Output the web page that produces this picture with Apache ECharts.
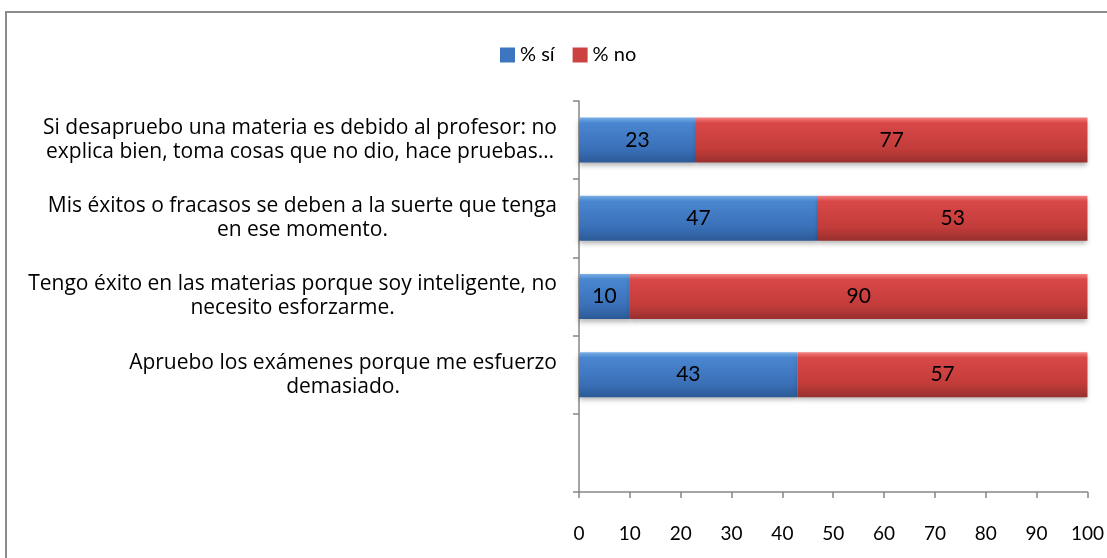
<!DOCTYPE html>
<html>
<head>
<meta charset="utf-8">
<script src="https://cdn.jsdelivr.net/npm/echarts@6/dist/echarts.min.js"></script>
<style>
  html, body { margin: 0; padding: 0; background: #fff; }
  #chart { width: 1107px; height: 558px; }
</style>
</head>
<body>
<div id="chart"></div>
<script>
// categories, top to bottom (last slot is empty in the original)
var categories = [
  'Si desapruebo una materia es debido al profesor: no\nexplica bien, toma cosas que no dio, hace pruebas…',
  'Mis éxitos o fracasos se deben a la suerte que tenga\nen ese momento.',
  'Tengo éxito en las materias porque soy inteligente, no\nnecesito esforzarme.',
  'Apruebo los exámenes porque me esfuerzo\ndemasiado.',
  ''
]
var siValues = [23, 47, 10, 43, null]
var noValues = [77, 53, 90, 57, null]
var xTicks = [0, 100, 10] // min, max, interval

var fontFamily = 'Lato, "Open Sans", sans-serif'
var catFont = '"Open Sans", Lato, sans-serif'

var blueGrad = new echarts.graphic.LinearGradient(0, 0, 0, 1, [
  { offset: 0, color: '#78aee6' },
  { offset: 0.12, color: '#4a86d0' },
  { offset: 0.7, color: '#3a70b8' },
  { offset: 1, color: '#2c5a96' }
])
var redGrad = new echarts.graphic.LinearGradient(0, 0, 0, 1, [
  { offset: 0, color: '#f48080' },
  { offset: 0.12, color: '#d94848' },
  { offset: 0.7, color: '#c23c3a' },
  { offset: 1, color: '#98302e' }
])

var chart = echarts.init(document.getElementById('chart'))
chart.setOption({
  backgroundColor: '#fff',
  textStyle: { fontFamily: fontFamily },
  graphic: [{
    type: 'rect',
    shape: { x: 6, y: 12, width: 1200, height: 700 },
    style: { fill: 'none', stroke: '#8c8c8c', lineWidth: 2 },
    silent: true
  }],
  legend: {
    top: 40,
    left: 495,
    itemWidth: 15,
    itemHeight: 15,
    itemGap: 18,
    textStyle: { fontSize: 20, color: '#000', fontFamily: fontFamily },
    data: [
      { name: '% sí', icon: 'rect', itemStyle: { color: '#3d76c0' } },
      { name: '% no', icon: 'rect', itemStyle: { color: '#cc4240' } }
    ]
  },
  grid: {
    left: 579,
    right: 18,
    top: 101,
    bottom: 66
  },
  xAxis: {
    type: 'value',
    min: xTicks[0],
    max: xTicks[1],
    interval: xTicks[2],
    axisLine: { show: true, lineStyle: { color: '#868686', width: 1.5 } },
    axisTick: { show: true, length: 6, lineStyle: { color: '#868686', width: 1.5 } },
    axisLabel: { fontSize: 19, color: '#000', margin: 32, fontFamily: fontFamily },
    splitLine: { show: false }
  },
  yAxis: {
    type: 'category',
    inverse: true,
    data: categories,
    axisLine: { show: true, lineStyle: { color: '#868686', width: 1.5 } },
    axisTick: { show: true, length: 6, lineStyle: { color: '#868686', width: 1.5 } },
    axisLabel: {
      margin: 22,
      color: '#000',
      fontSize: 21,
      lineHeight: 24,
      formatter: function (v) {
        if (!v) return ''
        return v.split('\n').map(function (l) { return '{c|' + l + '}' }).join('\n')
      },
      rich: {
        c: { align: 'center', fontSize: 21, lineHeight: 24, color: '#000', fontFamily: catFont }
      }
    }
  },
  series: [
    {
      name: '% sí',
      type: 'bar',
      stack: 'total',
      barWidth: 45,
      data: siValues,
      itemStyle: {
        color: blueGrad,
        shadowColor: 'rgba(0,0,0,0.3)',
        shadowBlur: 5,
        shadowOffsetY: 3
      },
      label: { show: true, position: 'inside', color: '#000', fontSize: 21, fontFamily: fontFamily }
    },
    {
      name: '% no',
      type: 'bar',
      stack: 'total',
      barWidth: 45,
      data: noValues,
      itemStyle: {
        color: redGrad,
        shadowColor: 'rgba(0,0,0,0.3)',
        shadowBlur: 5,
        shadowOffsetY: 3
      },
      label: { show: true, position: 'inside', color: '#000', fontSize: 21, fontFamily: fontFamily }
    }
  ]
})
</script>
</body>
</html>
